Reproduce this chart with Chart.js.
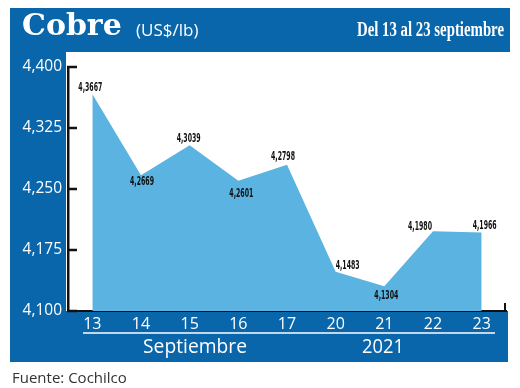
<!DOCTYPE html>
<html>
<head>
  <title>Cobre</title>
  <script src="https://cdn.jsdelivr.net/npm/chart.js@4/dist/chart.umd.min.js"></script>
  <style>
    body { margin: 0; background: #fff; }
    #wrap { width: 520px; height: 388px; }
  </style>
</head>
<body>
  <div id="wrap"><canvas id="chart" width="520" height="388"></canvas></div>
  <script>
    const days = ['13', '14', '15', '16', '17', '20', '21', '22', '23'];
    const prices = [4.3667, 4.2669, 4.3039, 4.2601, 4.2798, 4.1483, 4.1304, 4.1980, 4.1966];
    const yTicks = [4.100, 4.175, 4.250, 4.325, 4.400];

    const BLUE = '#0a66ab';
    const FILL = '#5ab3e1';
    const NARROW = '"Liberation Sans Narrow", "DejaVu Sans Condensed", sans-serif';

    const fmt = (v, d) => v.toFixed(d).replace('.', ',');

    // dx, dy of each value label from its point
    const labelOffsets = [[-2, -6], [1, 7], [-1, -6], [3, 13], [-4, -8], [12, -6], [2, 10], [-13, -4], [3, -7]];

    const frame = {
      id: 'frame',
      beforeDraw(chart) {
        const c = chart.ctx;
        c.save();
        c.fillStyle = '#fff';
        c.fillRect(0, 0, 520, 388);
        c.fillStyle = BLUE;
        c.fillRect(10, 8, 500, 44);
        c.fillRect(10, 8, 56, 354);
        c.fillRect(10, 311, 498, 51);
        c.restore();
      },
      afterDraw(chart) {
        const c = chart.ctx;
        const area = chart.chartArea;
        const ys = chart.scales.y;
        c.save();
        // inward ticks on y axis
        c.strokeStyle = '#111';
        c.lineWidth = 2.5;
        ys.ticks.forEach(t => {
          const y = ys.getPixelForValue(t.value);
          c.beginPath();
          c.moveTo(area.left - 1, y);
          c.lineTo(area.left + 9, y);
          c.stroke();
        });
        c.lineWidth = 2;
        c.beginPath();
        c.moveTo(area.right - 1, area.bottom);
        c.lineTo(area.right - 1, area.bottom - 8);
        c.stroke();

        // value labels
        const meta = chart.getDatasetMeta(0);
        c.fillStyle = '#111';
        c.font = 'bold 12px ' + NARROW;
        c.textAlign = 'center';
        c.textBaseline = 'middle';
        meta.data.forEach((pt, i) => {
          const o = labelOffsets[i];
          c.fillText(fmt(prices[i], 4), pt.x + o[0], pt.y + o[1], 24);
        });

        // header
        c.fillStyle = '#fff';
        c.textAlign = 'left';
        c.textBaseline = 'alphabetic';
        c.font = 'bold 30px "DejaVu Serif", serif';
        c.fillText('Cobre', 22, 35);
        c.font = '17px "Open Sans", sans-serif';
        c.fillText('(US$/lb)', 136, 36);
        c.textAlign = 'right';
        c.font = 'bold 20px "Liberation Serif", serif';
        c.fillText('Del 13 al 23 septiembre', 504, 36, 147);

        // bottom band
        c.strokeStyle = '#fff';
        c.lineWidth = 1.5;
        c.beginPath();
        c.moveTo(83, 333);
        c.lineTo(495, 333);
        c.stroke();
        c.textAlign = 'center';
        c.font = '20px "Open Sans", sans-serif';
        c.fillText('Septiembre', 195, 353, 104);
        c.fillText('2021', 383, 353, 42);

        // source
        c.fillStyle = '#333';
        c.textAlign = 'left';
        c.font = '15px "Open Sans", sans-serif';
        c.fillText('Fuente: Cochilco', 12, 383, 116);
        c.restore();
      }
    };

    new Chart(document.getElementById('chart'), {
      type: 'line',
      data: {
        labels: days,
        datasets: [{
          data: prices,
          fill: 'start',
          backgroundColor: FILL,
          borderWidth: 0,
          pointRadius: 0,
          tension: 0
        }]
      },
      options: {
        responsive: false,
        animation: false,
        events: [],
        layout: { padding: { left: 0, top: 67, right: 14, bottom: 37 } },
        plugins: { legend: { display: false }, tooltip: { enabled: false } },
        scales: {
          x: {
            offset: true,
            grid: { display: false, drawTicks: false },
            border: { display: true, color: '#111', width: 2 },
            ticks: { color: '#fff', padding: 4, font: { family: '"Open Sans", sans-serif', size: 16 } },
            afterFit: s => { s.height = 40; }
          },
          y: {
            min: 4.1,
            max: 4.4,
            grid: { display: false, drawTicks: false },
            border: { display: true, color: '#111', width: 2.5 },
            afterBuildTicks: s => { s.ticks = yTicks.map(v => ({ value: v })); },
            ticks: {
              color: '#fff',
              padding: 6,
              font: { family: '"Open Sans", sans-serif', size: 15.5 },
              callback: v => fmt(v, 3)
            },
            afterFit: s => { s.width = 68; }
          }
        }
      },
      plugins: [frame]
    });
  </script>
</body>
</html>
